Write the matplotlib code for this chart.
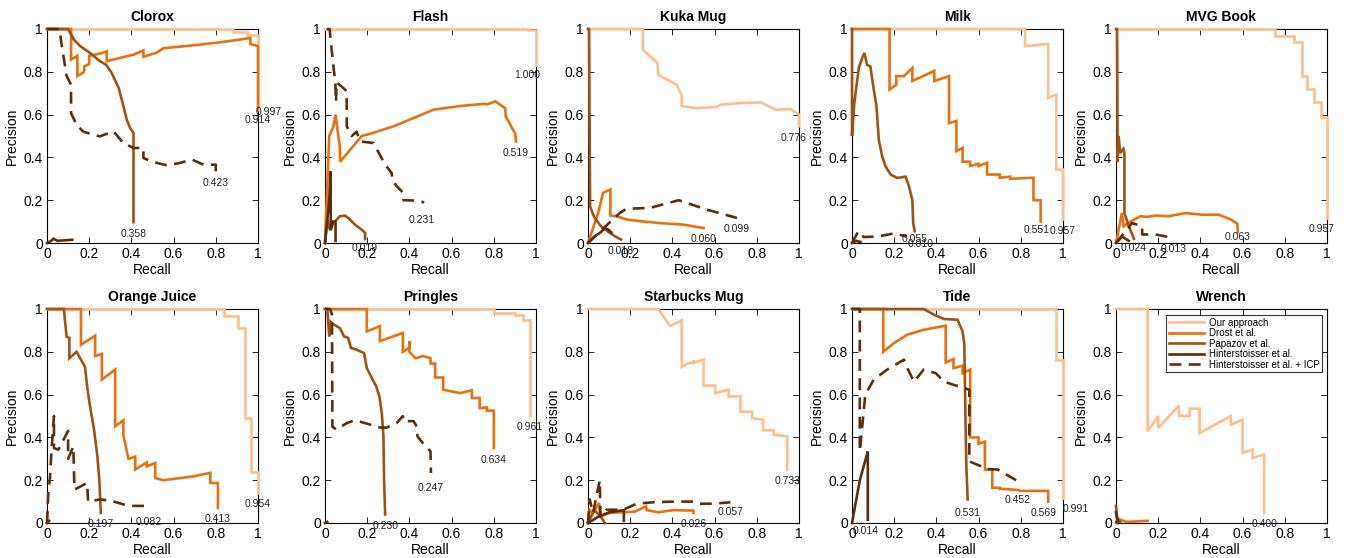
import numpy as np
import matplotlib
matplotlib.use('Agg')
import matplotlib.pyplot as plt

plt.rcParams['font.family'] = ['Liberation Sans', 'DejaVu Sans']

# methods, in legend / drawing order
methods = ['Our approach', 'Drost et al.', 'Papazov et al.', 'Hinterstoisser et al.', 'Hinterstoisser et al. + ICP']

# ---- precision/recall curves, (recall, precision) points ----
clorox_ours = [(0, 1), (0.88, 1), (0.88, 0.985), (0.95, 0.985), (0.95, 0.97), (1.0, 0.97), (1.0, 0.66)]
clorox_drost = [(0, 1), (0.114, 1), (0.114, 0.857), (0.144, 0.875), (0.144, 0.78), (0.176, 0.80), (0.176, 0.825),
                (0.20, 0.836), (0.20, 0.875), (0.25, 0.885), (0.283, 0.895), (0.283, 0.85), (0.41, 0.88), (0.457, 0.90),
                (0.457, 0.87), (0.52, 0.89), (0.552, 0.91), (0.726, 0.927), (0.853, 0.942), (0.964, 0.958),
                (0.964, 0.93), (1.0, 0.92), (1.0, 0.62)]
clorox_papazov = [(0, 1), (0.10, 1), (0.128, 0.95), (0.157, 0.92), (0.204, 0.888), (0.25, 0.85), (0.28, 0.833),
                  (0.307, 0.794), (0.34, 0.724), (0.362, 0.64), (0.378, 0.576), (0.394, 0.537), (0.41, 0.514),
                  (0.41, 0.097)]
clorox_hinter = [(0, 0), (0.02, 0.01), (0.03, 0.02), (0.05, 0.01), (0.12, 0.015)]
clorox_icp = [(0, 1), (0.06, 1), (0.068, 0.935), (0.093, 0.78), (0.114, 0.74), (0.114, 0.607), (0.14, 0.553),
              (0.172, 0.52), (0.25, 0.498), (0.315, 0.522), (0.362, 0.467), (0.41, 0.444), (0.457, 0.444),
              (0.457, 0.397), (0.505, 0.378), (0.568, 0.363), (0.63, 0.374), (0.687, 0.39), (0.742, 0.366),
              (0.80, 0.366), (0.80, 0.335)]
clorox_ap = ['0.997', '0.914', '0.358', '', '0.423']

flash_ours = [(0, 1), (0.96, 1), (0.96, 0.995), (1.0, 0.995), (1.0, 0.83)]
flash_drost = [(0, 0), (0.008, 0.2), (0.02, 0.5), (0.04, 0.545), (0.05, 0.6), (0.07, 0.45), (0.072, 0.38),
               (0.174, 0.5), (0.214, 0.51), (0.324, 0.545), (0.42, 0.584), (0.514, 0.623), (0.64, 0.64),
               (0.75, 0.65), (0.77, 0.648), (0.807, 0.662), (0.854, 0.63), (0.857, 0.59), (0.902, 0.51),
               (0.905, 0.475)]
flash_papazov = [(0, 0), (0.011, 0.11), (0.024, 0.06), (0.04, 0.093), (0.07, 0.125), (0.095, 0.128),
                 (0.11, 0.117), (0.142, 0.086), (0.174, 0.062), (0.19, 0.047), (0.19, 0.019)]
flash_hinter = [(0, 0), (0.02, 0.2), (0.027, 0.335), (0.027, 0.06), (0.036, 0.1), (0.05, 0.1), (0.05, 0.01)]
flash_icp = [(0.008, 1), (0.022, 1), (0.028, 0.935), (0.04, 0.826), (0.049, 0.748), (0.052, 0.66), (0.055, 0.75),
             (0.08, 0.73), (0.103, 0.71), (0.103, 0.545), (0.127, 0.5), (0.15, 0.52), (0.166, 0.475), (0.23, 0.467),
             (0.285, 0.366), (0.316, 0.327), (0.321, 0.288), (0.348, 0.257), (0.372, 0.234), (0.372, 0.2),
             (0.435, 0.198), (0.47, 0.19)]
flash_ap = ['1.000', '0.519', '0.019', '', '0.231']

kuka_ours = [(0, 1), (0.26, 1), (0.26, 0.903), (0.33, 0.84), (0.333, 0.785), (0.42, 0.74), (0.444, 0.69),
             (0.444, 0.64), (0.516, 0.63), (0.61, 0.636), (0.627, 0.646), (0.72, 0.654), (0.82, 0.657),
             (0.89, 0.623), (0.96, 0.626), (1.0, 0.6), (1.0, 0.545)]
kuka_drost = [(0, 0), (0.048, 0.14), (0.071, 0.234), (0.106, 0.25), (0.106, 0.128), (0.135, 0.125), (0.183, 0.11),
              (0.246, 0.102), (0.341, 0.093), (0.452, 0.086), (0.548, 0.07)]
kuka_papazov = [(0, 1), (0.005, 1), (0.008, 0.5), (0.01, 0.17), (0.03, 0.12), (0.06, 0.08), (0.1, 0.05),
                (0.13, 0.03), (0.157, 0.016)]
kuka_hinter = [(0, 0), (0.03, 0.03), (0.06, 0.05), (0.08, 0.07), (0.1, 0.06), (0.11, 0.05)]
kuka_icp = [(0, 0), (0.15, 0.14), (0.183, 0.16), (0.294, 0.164), (0.43, 0.2), (0.563, 0.156), (0.706, 0.117)]
kuka_ap = ['0.776', '0.060', '0.018', '', '0.099']

milk_ours = [(0, 1), (0.82, 1), (0.82, 0.92), (0.93, 0.93), (0.93, 0.678), (0.968, 0.693), (0.968, 0.343),
             (1.0, 0.343), (1.0, 0.11)]
milk_drost = [(0, 1), (0.178, 1), (0.178, 0.717), (0.21, 0.74), (0.21, 0.78), (0.246, 0.78), (0.286, 0.818),
              (0.286, 0.757), (0.39, 0.804), (0.39, 0.757), (0.46, 0.78), (0.46, 0.56), (0.495, 0.57),
              (0.495, 0.43), (0.524, 0.444), (0.524, 0.38), (0.56, 0.38), (0.56, 0.36), (0.6, 0.37), (0.6, 0.36),
              (0.64, 0.375), (0.64, 0.32), (0.7, 0.32), (0.7, 0.305), (0.75, 0.31), (0.75, 0.3), (0.86, 0.305),
              (0.86, 0.2), (0.894, 0.2), (0.894, 0.1)]
milk_papazov = [(0, 1), (0, 0.5), (0.011, 0.654), (0.032, 0.818), (0.048, 0.864), (0.059, 0.888), (0.071, 0.833),
                (0.087, 0.825), (0.103, 0.717), (0.116, 0.64), (0.127, 0.483), (0.143, 0.405), (0.159, 0.358),
                (0.183, 0.32), (0.214, 0.304), (0.254, 0.31), (0.27, 0.265), (0.286, 0.2), (0.29, 0.093),
                (0.297, 0.055)]
milk_hinter = [(0, 0), (0.02, 0.01), (0.04, 0.005)]
milk_icp = [(0, 0), (0.03, 0.055), (0.055, 0.028), (0.12, 0.03), (0.2, 0.045), (0.26, 0.03)]
milk_ap = ['0.957', '0.551', '0.055', '', '0.010']

mvg_ours = [(0, 1), (0.754, 1), (0.754, 0.966), (0.845, 0.966), (0.845, 0.938), (0.88, 0.938), (0.88, 0.78),
            (0.905, 0.78), (0.905, 0.72), (0.937, 0.72), (0.937, 0.657), (0.97, 0.657), (0.97, 0.59), (1.0, 0.59),
            (1.0, 0.117)]
mvg_drost = [(0, 0), (0.028, 0.14), (0.036, 0.078), (0.068, 0.1), (0.116, 0.125), (0.147, 0.122), (0.187, 0.128),
             (0.25, 0.125), (0.33, 0.14), (0.41, 0.132), (0.488, 0.132), (0.544, 0.11), (0.575, 0.09),
             (0.577, 0.05)]
mvg_papazov = [(0, 1), (0.005, 1), (0.008, 0.38), (0.012, 0.5), (0.02, 0.42), (0.035, 0.44), (0.04, 0.42),
               (0.04, 0.14), (0.06, 0.08), (0.085, 0.02)]
mvg_hinter = [(0, 0), (0.03, 0.03), (0.06, 0.01)]
mvg_icp = [(0, 0), (0.076, 0.093), (0.124, 0.078), (0.124, 0.04), (0.187, 0.04), (0.274, 0.023)]
mvg_ap = ['0.957', '0.063', '0.024', '', '0.013']

oj_ours = [(0, 1), (0.84, 1), (0.84, 0.966), (0.903, 0.966), (0.903, 0.91), (0.94, 0.91), (0.94, 0.49),
           (0.967, 0.49), (0.967, 0.237), (1.0, 0.237), (1.0, 0.14)]
oj_drost = [(0, 1), (0.161, 1), (0.161, 0.833), (0.228, 0.875), (0.228, 0.78), (0.26, 0.79), (0.26, 0.67),
            (0.323, 0.717), (0.323, 0.452), (0.362, 0.48), (0.362, 0.41), (0.386, 0.3), (0.418, 0.31),
            (0.418, 0.25), (0.473, 0.283), (0.473, 0.265), (0.513, 0.28), (0.513, 0.21), (0.552, 0.2),
            (0.63, 0.21), (0.694, 0.218), (0.774, 0.234), (0.774, 0.187), (0.81, 0.187), (0.81, 0.07)]
oj_papazov = [(0, 1), (0.08, 1), (0.093, 0.87), (0.106, 0.865), (0.106, 0.77), (0.14, 0.8), (0.18, 0.73),
              (0.19, 0.64), (0.204, 0.545), (0.223, 0.436), (0.239, 0.31), (0.248, 0.2), (0.255, 0.047)]
oj_hinter = [(0, 0), (0.01, 0.01)]
oj_icp = [(0, 0), (0.006, 0.14), (0.014, 0.21), (0.022, 0.35), (0.033, 0.5), (0.033, 0.35), (0.054, 0.343),
          (0.1, 0.43), (0.1, 0.3), (0.125, 0.358), (0.13, 0.156), (0.19, 0.187), (0.195, 0.1), (0.25, 0.11),
          (0.3, 0.105), (0.386, 0.08), (0.48, 0.08)]
oj_ap = ['0.954', '0.413', '0.197', '', '0.082']

pringles_ours = [(0, 1), (0.8, 1), (0.8, 0.98), (0.9, 0.98), (0.9, 0.97), (0.94, 0.97), (0.94, 0.95), (0.97, 0.95),
                 (0.97, 0.5)]
pringles_drost = [(0, 1), (0.198, 1), (0.198, 0.895), (0.26, 0.92), (0.26, 0.85), (0.369, 0.888), (0.369, 0.8),
                  (0.4, 0.82), (0.4, 0.85), (0.4, 0.8), (0.43, 0.77), (0.465, 0.78), (0.5, 0.77), (0.5, 0.745),
                  (0.522, 0.745), (0.522, 0.68), (0.56, 0.68), (0.56, 0.623), (0.64, 0.607), (0.696, 0.62),
                  (0.696, 0.584), (0.733, 0.584), (0.733, 0.537), (0.767, 0.54), (0.767, 0.525), (0.8, 0.525),
                  (0.8, 0.35)]
pringles_papazov = [(0, 1), (0.011, 1), (0.02, 0.872), (0.027, 0.94), (0.043, 0.927), (0.071, 0.91), (0.09, 0.872),
                    (0.11, 0.865), (0.123, 0.818), (0.15, 0.81), (0.185, 0.794), (0.198, 0.724), (0.214, 0.693),
                    (0.242, 0.64), (0.258, 0.59), (0.269, 0.514), (0.277, 0.405), (0.28, 0.2), (0.285, 0.04)]
pringles_hinter = [(0, 0), (0.01, 0.005)]
pringles_icp = [(0, 1), (0.024, 1), (0.033, 0.975), (0.035, 0.45), (0.055, 0.436), (0.103, 0.467), (0.142, 0.48),
                (0.214, 0.46), (0.245, 0.447), (0.29, 0.445), (0.34, 0.467), (0.369, 0.5), (0.372, 0.476),
                (0.42, 0.476), (0.435, 0.45), (0.438, 0.405), (0.47, 0.366), (0.5, 0.335), (0.502, 0.234)]
pringles_ap = ['0.961', '0.634', '0.230', '', '0.247']

starbucks_ours = [(0, 1), (0.333, 1), (0.389, 0.92), (0.444, 0.947), (0.444, 0.73), (0.476, 0.748), (0.5, 0.748),
                  (0.5, 0.76), (0.502, 0.75), (0.548, 0.763), (0.548, 0.642), (0.603, 0.642), (0.603, 0.607),
                  (0.667, 0.623), (0.667, 0.59), (0.722, 0.593), (0.722, 0.52), (0.778, 0.52), (0.778, 0.49),
                  (0.83, 0.483), (0.83, 0.433), (0.88, 0.433), (0.88, 0.413), (0.944, 0.405), (0.944, 0.248)]
starbucks_drost = [(0, 0), (0.008, 0.06), (0.024, 0.047), (0.052, 0.093), (0.058, 0.03), (0.103, 0.047),
                   (0.159, 0.05), (0.222, 0.053), (0.275, 0.078), (0.278, 0.06), (0.333, 0.05), (0.405, 0.06),
                   (0.5, 0.058), (0.5, 0.047)]
starbucks_papazov = [(0, 0), (0.03, 0.06), (0.06, 0.03), (0.08, 0.0)]
starbucks_hinter = [(0, 0), (0.05, 0.03), (0.1, 0.05), (0.17, 0.06), (0.17, 0.01)]
starbucks_icp = [(0, 0), (0.008, 0.11), (0.024, 0.047), (0.043, 0.14), (0.056, 0.2), (0.059, 0.03), (0.087, 0.062),
                 (0.167, 0.062), (0.23, 0.09), (0.31, 0.097), (0.405, 0.1), (0.5, 0.1), (0.516, 0.09),
                 (0.595, 0.09), (0.675, 0.097)]
starbucks_ap = ['0.733', '0.026', '', '', '0.057']

tide_ours = [(0, 1), (0.968, 1), (0.968, 0.763), (1.0, 0.763), (1.0, 0.117)]
tide_drost = [(0, 1), (0.148, 1), (0.148, 0.8), (0.198, 0.84), (0.262, 0.88), (0.34, 0.903), (0.444, 0.922),
              (0.444, 0.75), (0.481, 0.766), (0.481, 0.724), (0.524, 0.735), (0.524, 0.70), (0.56, 0.717),
              (0.56, 0.40), (0.6, 0.40), (0.6, 0.37), (0.63, 0.38), (0.63, 0.25), (0.665, 0.25), (0.665, 0.165),
              (0.7, 0.165), (0.7, 0.16), (0.78, 0.155), (0.8, 0.15), (0.93, 0.15), (0.93, 0.1)]
tide_papazov = [(0, 1), (0.34, 1), (0.389, 0.973), (0.437, 0.953), (0.5, 0.95), (0.524, 0.895), (0.532, 0.84),
                (0.535, 0.67), (0.538, 0.467), (0.542, 0.265), (0.548, 0.11)]
tide_hinter = [(0, 0), (0.037, 0.2), (0.075, 0.335), (0.075, 0.015)]
tide_icp = [(0.0, 1), (0.037, 1), (0.037, 0.335), (0.063, 0.6), (0.103, 0.67), (0.167, 0.717), (0.246, 0.763),
            (0.262, 0.724), (0.294, 0.66), (0.34, 0.717), (0.397, 0.70), (0.437, 0.66), (0.5, 0.64),
            (0.556, 0.623), (0.556, 0.288), (0.643, 0.252), (0.69, 0.25), (0.786, 0.195)]
tide_ap = ['0.991', '0.569', '0.531', '0.014', '0.452']

wrench_ours = [(0, 1), (0.15, 1), (0.15, 0.428), (0.2, 0.5), (0.2, 0.444), (0.298, 0.548), (0.298, 0.5),
               (0.349, 0.5), (0.349, 0.534), (0.396, 0.534), (0.396, 0.42), (0.544, 0.5), (0.544, 0.46),
               (0.6, 0.483), (0.6, 0.327), (0.647, 0.343), (0.647, 0.304), (0.702, 0.32), (0.702, 0.047)]
wrench_drost = [(0, 0), (0.01, 0.02), (0.05, 0.005), (0.15, 0.01)]
wrench_papazov = [(0, 0.08), (0.005, 0.02), (0.02, 0.005)]
wrench_hinter = [(0, 0.05), (0.01, 0.0)]
wrench_icp = [(0, 0), (0.005, 0.01)]
wrench_ap = ['0.400', '', '', '', '']

titles = ['Clorox', 'Flash', 'Kuka Mug', 'Milk', 'MVG Book',
          'Orange Juice', 'Pringles', 'Starbucks Mug', 'Tide', 'Wrench']
curves = [
    [clorox_ours, clorox_drost, clorox_papazov, clorox_hinter, clorox_icp],
    [flash_ours, flash_drost, flash_papazov, flash_hinter, flash_icp],
    [kuka_ours, kuka_drost, kuka_papazov, kuka_hinter, kuka_icp],
    [milk_ours, milk_drost, milk_papazov, milk_hinter, milk_icp],
    [mvg_ours, mvg_drost, mvg_papazov, mvg_hinter, mvg_icp],
    [oj_ours, oj_drost, oj_papazov, oj_hinter, oj_icp],
    [pringles_ours, pringles_drost, pringles_papazov, pringles_hinter, pringles_icp],
    [starbucks_ours, starbucks_drost, starbucks_papazov, starbucks_hinter, starbucks_icp],
    [tide_ours, tide_drost, tide_papazov, tide_hinter, tide_icp],
    [wrench_ours, wrench_drost, wrench_papazov, wrench_hinter, wrench_icp],
]
aps = [clorox_ap, flash_ap, kuka_ap, milk_ap, mvg_ap, oj_ap, pringles_ap, starbucks_ap, tide_ap, wrench_ap]

# styles
colors = ['#FDBF8A', '#E8700F', '#A0520F', '#5C2E0B', '#5C2E0B']
styles = ['-', '-', '-', '-', '--']

# small shifts of the AP labels (panel, method) -> (dx, dy), to sit where the original has them
nudge = {
    (0, 0): (0.05, 0.005), (0, 1): (0.0, 0.01),
    (1, 0): (-0.043, 0.01), (1, 2): (0.0, 0.01), (1, 4): (-0.01, -0.03),
    (2, 0): (-0.024, 0.0),
    (3, 1): (-0.02, 0.015), (3, 2): (0.0, 0.015), (3, 4): (0.065, 0.02),
    (4, 0): (-0.025, 0.0), (4, 1): (0.0, 0.03), (4, 2): (0.0, 0.01),
    (5, 4): (0.0, -0.02),
    (6, 4): (0.0, -0.015),
    (7, 4): (0.0, 0.01),
    (8, 0): (0.06, 0.0), (8, 1): (-0.02, 0.0), (8, 2): (0.0, -0.01), (8, 3): (-0.01, 0.0), (8, 4): (0.0, -0.035),
}

fig = plt.figure(figsize=(13.47, 5.58), dpi=100)
lefts = [47, 325, 588, 852, 1116]
bottoms = [243, 523]
W, H = 1347.0, 558.0

for i in range(10):
    row, col = divmod(i, 5)
    ax = fig.add_axes([lefts[col] / W, 1 - bottoms[row] / H, 211 / W, 214 / H])
    lines = []
    for m in range(5):
        pts = np.array(curves[i][m], dtype=float)
        ln, = ax.plot(pts[:, 0], pts[:, 1], color=colors[m], linestyle=styles[m], lw=1.9,
                      clip_on=False, zorder=3, solid_joinstyle='miter', label=methods[m])
        if styles[m] == '--':
            ln.set_dashes((4.5, 2.8))
        lines.append(ln)
        if aps[i][m]:
            dx, dy = nudge.get((i, m), (0.0, 0.0))
            ax.text(pts[-1, 0] + dx, pts[-1, 1] - 0.03 + dy, aps[i][m], ha='center', va='top',
                    fontsize=7.5, color='#222222', clip_on=False, zorder=4)
    ax.set_xlim(0, 1)
    ax.set_ylim(0, 1)
    ax.set_xticks([0, 0.2, 0.4, 0.6, 0.8, 1])
    ax.set_yticks([0, 0.2, 0.4, 0.6, 0.8, 1])
    ax.set_xticklabels(['0', '0.2', '0.4', '0.6', '0.8', '1'])
    ax.set_yticklabels(['0', '0.2', '0.4', '0.6', '0.8', '1'])
    ax.tick_params(direction='in', top=True, right=True, length=4, width=0.6, labelsize=10, pad=3)
    for s in ax.spines.values():
        s.set_linewidth(0.8)
    ax.set_title(titles[i], fontsize=10, fontweight='bold', pad=6)
    ax.set_xlabel('Recall', fontsize=10, labelpad=1)
    ax.set_ylabel('Precision', fontsize=10, labelpad=3)
    if i == 9:
        leg = ax.legend(handles=lines, loc='upper right', bbox_to_anchor=(0.975, 0.97), fontsize=7,
                        frameon=True, fancybox=False, edgecolor='black', borderaxespad=0, borderpad=0.25,
                        labelspacing=0.05, handlelength=3.6, handletextpad=0.5)
        leg.get_frame().set_linewidth(0.8)
        leg.set_zorder(5)

fig.savefig('out.png', dpi=100)
